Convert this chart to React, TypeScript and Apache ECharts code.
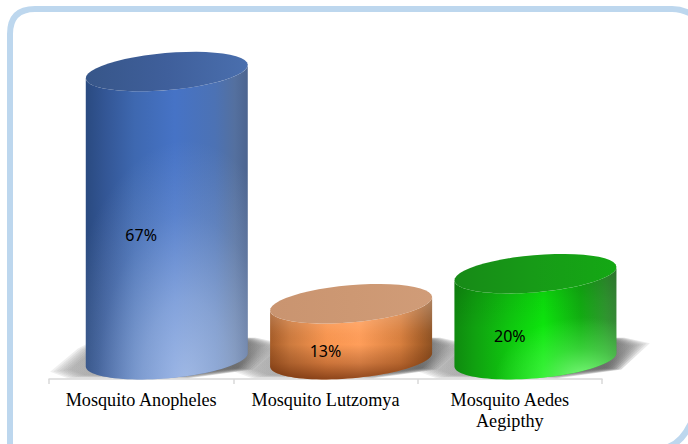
import React, { useEffect, useRef } from "react";
import * as echarts from "echarts";

const categories = ["Mosquito Anopheles", "Mosquito Lutzomya", "Mosquito Aedes\nAegipthy"];
const percentages = [67, 13, 20];

const capColors = [
  ["#375689", "#3F5F9B", "#4A6FAE"],
  ["#C99470", "#CD9873", "#D09C78"],
  ["#178A17", "#179B17", "#14A814"],
];
const sideStops = [
  [[0, "#2A4A80"], [0.12, "#335695"], [0.3, "#3E68B0"], [0.55, "#4673C6"], [0.8, "#4C72B4"], [0.92, "#54709F"], [1, "#4C648F"]],
  [[0, "#A65C28"], [0.12, "#CC7A3E"], [0.35, "#F99650"], [0.55, "#FF9E5A"], [0.8, "#D9803F"], [0.93, "#A96029"], [1, "#8D5122"]],
  [[0, "#0F8A0F"], [0.12, "#10A010"], [0.35, "#0FC80F"], [0.55, "#0DE60D"], [0.78, "#12B012"], [0.93, "#2F9A2F"], [1, "#378A37"]],
];
const verticalStops = [
  [[0, "rgba(255,255,255,0)"], [1, "rgba(255,255,255,0)"]],
  [[0, "rgba(255,255,255,0.3)"], [0.4, "rgba(255,255,255,0.04)"], [0.58, "rgba(60,20,0,0)"], [0.8, "rgba(90,30,0,0.28)"], [1, "rgba(90,30,0,0.68)"]],
  [[0, "rgba(0,0,0,0.18)"], [0.3, "rgba(0,0,0,0.06)"], [0.55, "rgba(0,0,0,0)"], [1, "rgba(0,0,0,0)"]],
];
const glowShapes = [
  { x: 0.62, y: 1.02, r: 0.78 },
  { x: 0.5, y: 0.5, r: 0.5 },
  { x: 0.8, y: 1, r: 0.55 },
];
const glowStops = [
  [[0, "rgba(215,228,250,0.62)"], [0.35, "rgba(215,228,250,0.42)"], [0.7, "rgba(215,228,250,0.14)"], [1, "rgba(215,228,250,0)"]],
  [[0, "rgba(255,190,130,0)"], [1, "rgba(255,190,130,0)"]],
  [[0, "rgba(135,255,135,0.95)"], [0.5, "rgba(110,255,110,0.4)"], [1, "rgba(100,255,100,0)"]],
];

const FRAME_PATH = "M10 446 L10 34 Q10 9 35 9 L672 9 Q688 9 702 22 M668 447 Q684 442 694 416";
echarts.graphic.registerShape("frame", echarts.graphic.extendPath(FRAME_PATH, {}));

const CYL_OFFSET = 25.6;
const RX = 81;
const RY = 18.5;
const TILT = 7;
const STEPS = 48;
const SHADOW_POINTS = [
  [-106, 11], [-81, -10], [-60, -21], [81, -20], [104, -15], [78, 9], [20, 17], [-90, 17],
];
const SHADOW_SCALES = [1.1, 1.07, 1.04, 1.01, 0.98, 0.95, 0.92];

const linear = (x2: number, y2: number, stops: any[]) => ({
  type: "linear", x: 0, y: 0, x2, y2,
  colorStops: stops.map(([offset, color]) => ({ offset, color })),
});

const ellipsePoint = (cx: number, cy: number, t: number) => [
  cx + RX * Math.cos(t) + RY * 0.087 * Math.sin(t),
  cy - TILT * Math.cos(t) + RY * Math.sin(t),
];

const arcPath = (cx: number, cy: number, from: number, to: number) => {
  const pts: string[] = [];
  for (let k = 0; k <= STEPS; k++) {
    const p = ellipsePoint(cx, cy, from + ((to - from) * k) / STEPS);
    pts.push(`${p[0].toFixed(2)} ${p[1].toFixed(2)}`);
  }
  return pts.join(" L");
};

function geometry(api: any) {
  const p = api.coord([api.value(0), api.value(1)]);
  const b = api.coord([api.value(0), 0]);
  return { cx: p[0] + CYL_OFFSET, top: p[1], base: b[1], labelX: p[0] };
}

const renderShadow = (_: any, api: any) => {
  const { cx, base } = geometry(api);
  return {
    type: "group",
    silent: true,
    children: SHADOW_SCALES.map((s) => ({
      type: "polygon",
      silent: true,
      shape: { points: SHADOW_POINTS.map(([x, y]) => [cx + x * s, base + y * s]) },
      style: {
        fill: linear(1, 0, [[0, "rgba(150,150,150,0.14)"], [0.55, "rgba(110,110,110,0.2)"], [0.85, "rgba(90,90,90,0.27)"], [1, "rgba(140,140,140,0.14)"]]),
      },
    })),
  };
};

const renderCylinder = (params: any, api: any) => {
  const i = params.dataIndex;
  const v = api.value(1);
  const { cx, top, base, labelX } = geometry(api);
  const bodyPath = `M${arcPath(cx, base, Math.PI, 0)} L${arcPath(cx, top, 0, Math.PI)} Z`;
  const capPath = `M${arcPath(cx, top, 0, 2 * Math.PI)} Z`;
  const bodyEl = (fill: any) => ({ type: "path", shape: { pathData: bodyPath }, style: { fill }, silent: true });
  const labelY = base + api.size([0, 4.5])[1] + (top - base) / 2;
  return {
    type: "group",
    children: [
      bodyEl(linear(1, 0, sideStops[i])),
      bodyEl(linear(0, 1, verticalStops[i])),
      bodyEl({
        type: "radial", ...glowShapes[i],
        colorStops: glowStops[i].map(([offset, color]) => ({ offset, color })),
      }),
      {
        type: "path", shape: { pathData: capPath }, silent: true,
        style: { fill: linear(1, 0, capColors[i].map((c, k) => [k / 2, c])) },
      },
      {
        type: "text", silent: true,
        x: labelX, y: labelY,
        style: { text: `${v}%`, fontFamily: "Noto Sans", fontSize: 16, fill: "#000", align: "center", verticalAlign: "middle" },
      },
    ],
  };
};

export default function App() {
  const ref = useRef<HTMLDivElement>(null);
  useEffect(() => {
    const chart = echarts.init(ref.current!, null, { renderer: "svg" });
    const data = percentages.map((v, i) => [i, v]);
    chart.setOption({
      animation: false,
      backgroundColor: "#fff",
      graphic: [{
        type: "frame", silent: true,
        style: { fill: "none", stroke: "#BDD7EE", lineWidth: 6 },
      }],
      grid: { left: 49, right: 86, top: 20, bottom: 65 },
      xAxis: {
        type: "category",
        data: categories,
        axisLine: { onZero: false, lineStyle: { color: "#D9D9D9", width: 1.5 } },
        axisTick: { show: true, length: 5, lineStyle: { color: "#D9D9D9", width: 1.5 } },
        axisLabel: {
          color: "#000", fontFamily: "Liberation Serif", fontSize: 18.2,
          lineHeight: 21, margin: 10, interval: 0,
        },
      },
      yAxis: { type: "value", min: -4.5, max: 79, show: false },
      series: [
        { type: "custom", z: 1, clip: false, data, renderItem: renderShadow, encode: { x: 0, y: 1 } },
        { type: "custom", z: 2, clip: false, data, renderItem: renderCylinder, encode: { x: 0, y: 1 } },
      ],
    });
    return () => chart.dispose();
  }, []);
  return <div ref={ref} style={{ position: "fixed", left: 0, top: 0, width: 688, height: 444 }} />;
}
